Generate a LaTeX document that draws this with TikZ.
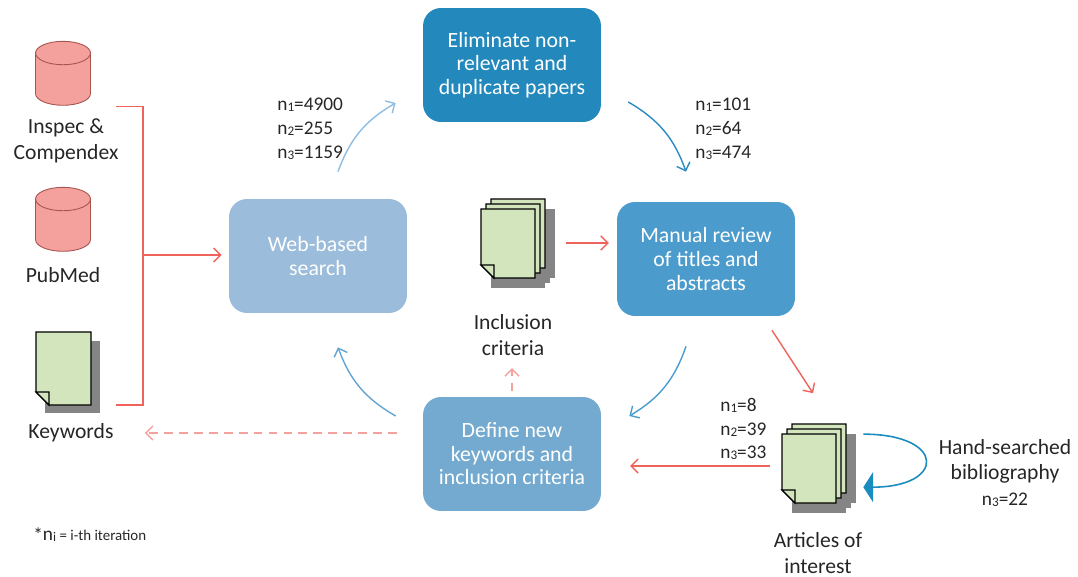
\documentclass[tikz,border=0pt]{standalone}
\usepackage{fontspec}
\setmainfont{Carlito}
\usetikzlibrary{arrows.meta,shapes.geometric}
\definecolor{elimblue}{HTML}{2389BD}
\definecolor{manualblue}{HTML}{4B9BCC}
\definecolor{defineblue}{HTML}{74AACF}
\definecolor{webblue}{HTML}{9BBCDA}
\definecolor{lblue}{HTML}{8DBDE2}
\definecolor{mblue}{HTML}{2A8BC3}
\definecolor{nblue}{HTML}{4A9DD0}
\definecolor{dblue}{HTML}{62A4D3}
\definecolor{loopblue}{HTML}{1B8CC0}
\definecolor{redc}{HTML}{F0625C}
\definecolor{pinkc}{HTML}{F5A29D}
\definecolor{dbred}{HTML}{F4A19E}
\definecolor{dbline}{HTML}{A65450}
\definecolor{pagegreen}{HTML}{D3E5BD}
\definecolor{docshadow}{HTML}{858585}
\definecolor{txtgray}{HTML}{262626}
\newcommand\nsub[1]{\raisebox{-0.6pt}{\fontsize{7.5}{9}\selectfont #1}}
\tikzset{
  box/.style={rounded corners=0.36cm, minimum width=3.56cm, minimum height=2.28cm, text=white, align=center, font=\fontsize{12.4}{13.4}\selectfont},
  lbl/.style={align=center, text=txtgray, inner sep=0pt, font=\fontsize{12.3}{14.7}\selectfont},
  cnt/.style={align=left, anchor=west, text=txtgray, inner sep=0pt, font=\fontsize{11}{13.6}\selectfont},
  db/.style={cylinder, shape border rotate=90, aspect=2, draw=dbline, fill=dbred, line width=0.5pt, minimum width=1.1cm, minimum height=1.28cm},
  docnode/.style={inner sep=0pt, minimum width=1.48cm, minimum height=1.78cm},
  arr/.style={-{Straight Barb[length=4pt,width=8pt]}, line width=0.8pt},
  dashln/.style={dash pattern=on 5pt off 3.5pt},
  pics/sheet/.style 2 args={code={
    \draw[fill=pagegreen, line width=0.7pt] (0,0) -- (#1,0) -- (#1,-#2) -- (13,-#2) -- (0,13-#2) -- cycle;
    \draw[fill=pagegreen, line width=0.7pt] (0,13-#2) -- (13,13-#2) -- (13,-#2) -- cycle;
  }},
  pics/stack/.style={code={
    \foreach \d in {10,5,0} \fill[docshadow] (\d+10,\d-10) rectangle (\d+64,\d-79);
    \foreach \d in {10,5,0} \pic at (\d,\d) {sheet={54}{69}};
  }},
}
\begin{document}
\begin{tikzpicture}[x=0.02cm, y=0.02cm]
\useasboundingbox (0,0) rectangle (1078,-577);
\node[db] (inspec) at (63,-83) {};
\node[lbl] (inspecl) at (66,-141) {Inspec \&\\Compendex};
\node[db] (pubmed) at (63,-229) {};
\node[lbl] (pubmedl) at (63,-275) {PubMed};
\fill[docshadow] (45,-341) rectangle (100,-413);
\pic at (36,-332) {sheet={55}{73}};
\node[inner sep=0pt, minimum width=1.1cm, minimum height=1.46cm] (keyw) at (63,-368) {};
\node[lbl] (keywl) at (71,-433) {Keywords};

\node[box, fill=webblue] (web) at (318,-256) {Web-based\\search};
\node[box, fill=elimblue] (elim) at (512,-65) {Eliminate non-\\relevant and\\duplicate papers};
\node[box, fill=manualblue] (manual) at (706,-259) {Manual review\\of titles and\\abstracts};
\node[box, fill=defineblue] (define) at (512,-454) {Define new\\keywords and\\inclusion criteria};

\pic at (481,-209) {stack};
\node[docnode] (incl) at (518,-243) {};
\node[lbl] (incll) at (513,-335) {Inclusion\\criteria};
\pic at (782,-434) {stack};
\node[docnode] (art) at (819,-466) {};
\node[lbl] (artl) at (818,-553) {Articles of\\interest};
\node[lbl] (handl) at (1005,-473) {Hand-searched\\bibliography\\{\fontsize{11}{13}\selectfont n\nsub{3}=22}};

\node[cnt] (cnt1) at (277,-129) {n\nsub{1}=4900\\n\nsub{2}=255\\n\nsub{3}=1159};
\node[cnt] (cnt2) at (695,-129) {n\nsub{1}=101\\n\nsub{2}=64\\n\nsub{3}=474};
\node[cnt] (cnt3) at (720,-429) {n\nsub{1}=8\\n\nsub{2}=39\\n\nsub{3}=33};
\node[cnt] (note) at (33,-535) {\fontsize{11}{13}\selectfont\raisebox{-1pt}{*}n{\fontsize{8.5}{10}\selectfont\nsub{i} = i-th iteration}};

\coordinate (brk) at (143,-255);
\draw[redc, line width=0.8pt] ([shift={(53,-1)}]inspec.south) -| (brk) |- ([shift={(53,0)}]keyw.south);
\draw[arr, redc, shorten >=4pt] (brk) -- (brk -| web.west);

\draw[arr, lblue] ([shift={(20,27)}]web.north) to[bend left=20] ([shift={(-27,-38)}]elim.west);
\draw[arr, mblue] ([shift={(27,-37)}]elim.east) to[bend left=20] ([shift={(-20,30)}]manual.north);
\draw[arr, nblue] ([shift={(-20,-30)}]manual.south) to[bend left=20] ([shift={(28,38)}]define.east);
\draw[arr, dblue] ([shift={(-27,38)}]define.west) to[bend left=20] ([shift={(20,-34)}]web.south);

\draw[arr, redc, shorten <=6pt, shorten >=4.5pt] (incl.east) -- (incl.east -| manual.west);
\draw[arr, redc] ([shift={(66,-14)}]manual.south) -- ([shift={(-6,28)}]art.north);
\draw[arr, redc, shorten <=6.8pt, shorten >=16.4pt] (art.west) -- (art.west -| define.east);
\draw[arr, pinkc, dashln, shorten <=3pt, shorten >=7pt] (define.north) -- (define.north |- incll.south);
\draw[arr, pinkc, dashln, shorten <=14.7pt, shorten >=17.6pt] (define.west |- keywl) -- (keywl);
\draw[loopblue, line width=0.9pt, -{Triangle[length=5.5pt,width=17pt]}] ([shift={(7,-13)}]art.north east) to[out=0, in=0, looseness=4] ([shift={(7,-66)}]art.north east);
\end{tikzpicture}
\end{document}
